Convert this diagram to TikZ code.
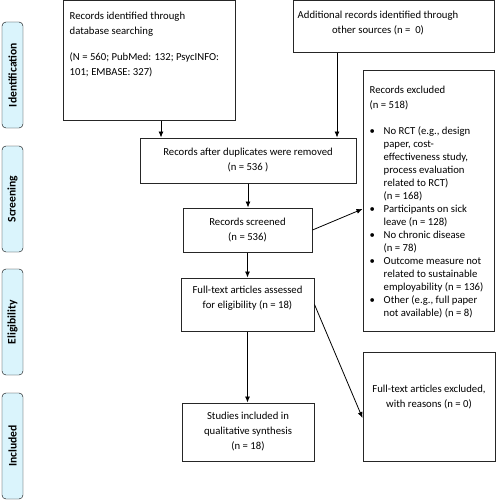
\documentclass[tikz,border=0pt]{standalone}
\usepackage{fontspec}
\setmainfont{Carlito}
\usetikzlibrary{positioning,arrows.meta,arrows}
\definecolor{stagefill}{RGB}{218,244,252}
\tikzset{
stage/.style={
  draw=black,
  fill=stagefill,
  rounded corners=4pt,
  rotate=90,
  minimum width=106pt,
  minimum height=21pt,
  inner sep=0pt,
  font=\fontsize{11.6}{13}\selectfont\bfseries
  },
flow/.style 2 args={
  draw=black!85,
  line width=1pt,
  inner sep=0pt,
  align=center,
  minimum width=#1,
  minimum height=#2,
  font=\fontsize{10.7}{15}\selectfont
  },
txt/.style={
  inner sep=0pt,
  font=\fontsize{10.7}{15}\selectfont
  }
}
\newcommand{\bul}{\makebox[14pt][l]{\textbullet}}
\newcommand{\ind}{\hspace*{14pt}}

\begin{document}
\begin{tikzpicture}[>={Latex[length=6pt,width=5pt]}, x=1pt, y=-1pt]
\useasboundingbox (0,0) rectangle (496,500);

% stages on the left
\node[stage] (ident) at (12.5,75) {Identification};
\node[stage] (screen) at (12.5,199) {Screening};
\node[stage] (elig) at (12.5,322) {Eligibility};
\node[stage] (incl) at (12.5,446) {Included};

% boxes
\node[flow={172pt}{119pt}] (db) at (149,60.5) {};
\node[flow={201pt}{52pt}] (other) at (393.5,27) {};
\node[flow={216pt}{45pt}] (dupl) at (248,160.5)
  {Records after duplicates were removed\\ (n = 536 )};
\node[flow={131pt}{260pt}] (excl) at (428.5,201) {};
\node[flow={129pt}{44pt}] (scr) at (247.5,230)
  {Records screened\\ (n = 536)};
\node[flow={133pt}{53pt}] (full) at (247.5,304.5) {};
\node[flow={132pt}{58pt}] (qual) at (248,432)
  {Studies included in\\ qualitative synthesis\\ (n = 18)};
\node[flow={132pt}{109pt}] (fexcl) at (429,406.5) {};

% texts not centred in their box
\node[txt, align=left, anchor=north west] (dbtxt) at ([xshift=7pt, yshift=-11.5pt]db.north west)
  {Records identified through\\ database searching\\[11pt]
   (N = 560; PubMed: 132; PsycINFO:\\ 101; EMBASE: 327)};
\node[txt, align=center, anchor=north] (othertxt) at ([xshift=-15.5pt, yshift=-10pt]other.north)
  {Additional records identified through\\ other sources (n =\ \ 0)};
\node[txt, align=center, anchor=north] (fulltxt) at ([yshift=-8pt]full.north)
  {Full-text articles assessed\\ for eligibility (n = 18)};
\node[txt, align=center] (fexcltxt) at ([yshift=9pt]fexcl.center)
  {Full-text articles excluded,\\ with reasons (n = 0)};
\node[txt, align=left, anchor=north west, font=\fontsize{10.7}{13}\selectfont] (excltxt)
  at ([xshift=7pt, yshift=-15pt]excl.north west)
  {Records excluded\\[2pt]
   (n = 518)\\[13pt]
   \bul No RCT (e.g., design\\
   \ind paper, cost-\\
   \ind effectiveness study,\\
   \ind process evaluation\\
   \ind related to RCT)\\
   \ind (n = 168)\\
   \bul Participants on sick\\
   \ind leave (n = 128)\\
   \bul No chronic disease\\
   \ind (n = 78)\\
   \bul Outcome measure not\\
   \ind related to sustainable\\
   \ind employability (n = 136)\\
   \bul Other (e.g., full paper\\
   \ind not available) (n = 8)};

% arrows
\coordinate (t1) at ([xshift=12pt]db.south);
\coordinate (t2) at ([xshift=-56.5pt]other.south);
\coordinate (t3) at ([yshift=-8pt]excl.west);
\coordinate (t4) at ([yshift=-11.5pt]fexcl.west);

\draw[->, line width=0.8pt] (t1) -- (t1 |- dupl.north);
\draw[->, line width=0.8pt] (t2) -- (t2 |- dupl.north);
\draw[->, line width=0.8pt] (dupl.south) -- (dupl.south |- scr.north);
\draw[->, line width=0.8pt] (scr.south) -- (scr.south |- full.north);
\draw[->, line width=0.8pt] (full.south) -- (full.south |- qual.north);
\draw[->, line width=0.8pt] (scr.east) -- (t3);
\draw[->, line width=0.8pt] (full.east) -- (t4);
\end{tikzpicture}
\end{document}
